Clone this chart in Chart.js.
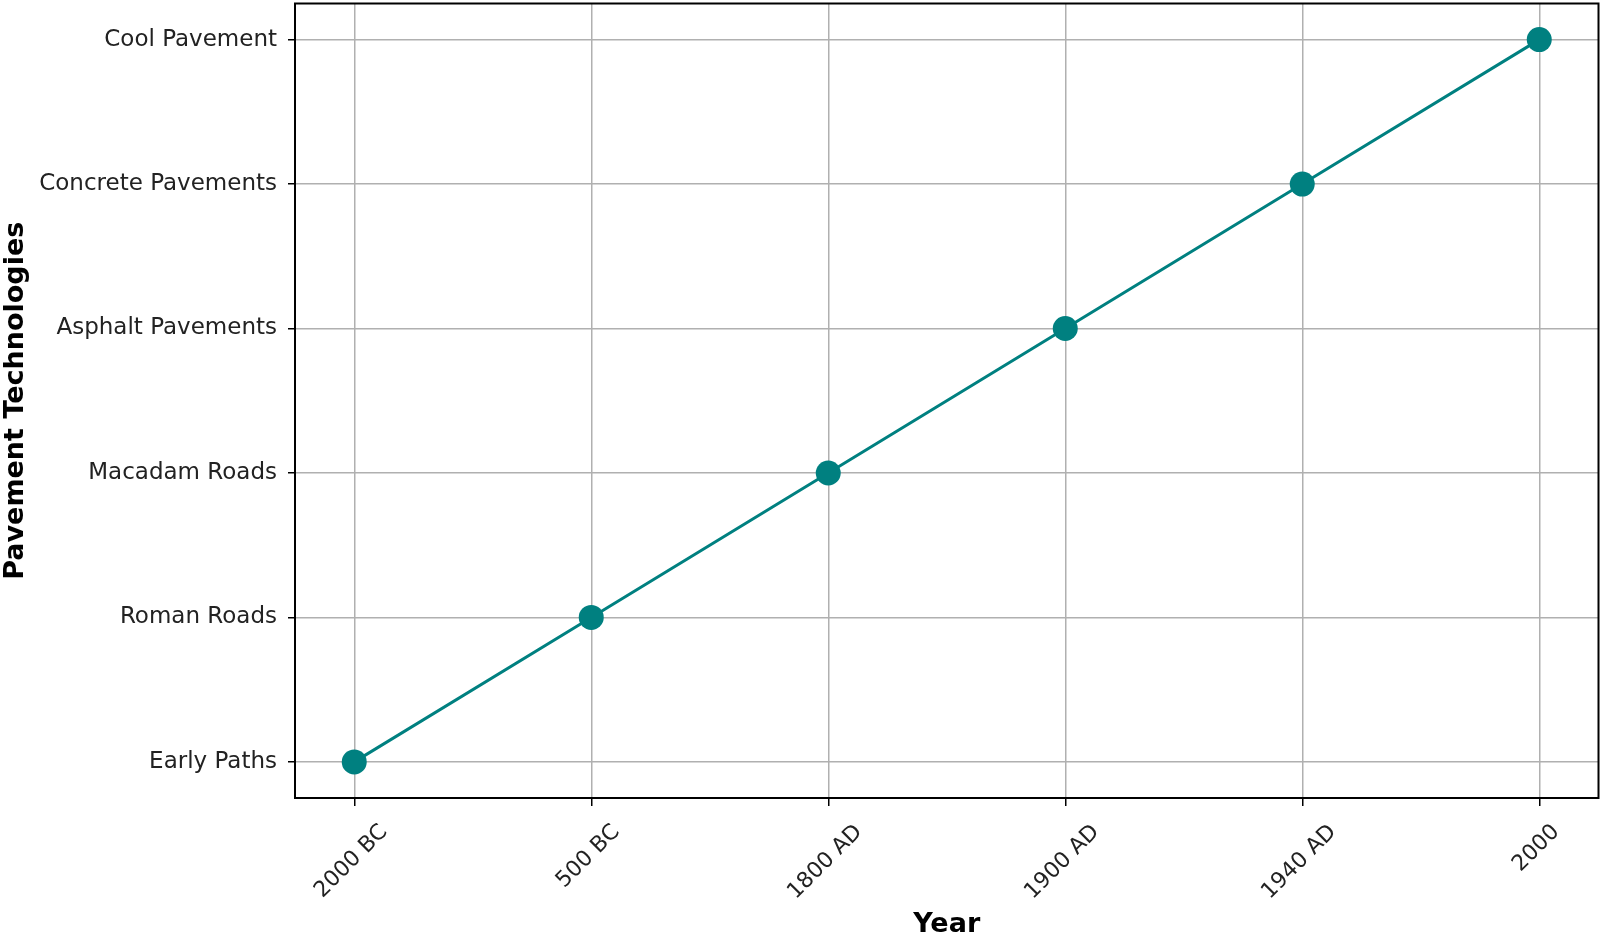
<!DOCTYPE html>
<html lang="en">
  <head>
    <meta charset="UTF-8" />
    <title>Pavement Technologies</title>
    <script src="https://cdn.jsdelivr.net/npm/chart.js"></script>
    <style>
      html, body { margin: 0; padding: 0; background: #fff; overflow: hidden; }
      /* a bit larger than the window so the plot frame sits where matplotlib put it */
      #wrap { position: relative; top: -9px; width: 1611px; height: 947px; }
    </style>
  </head>
  <body>
    <div id="wrap"><canvas id="timelineChart"></canvas></div>

    <script>
      const years = ['2000 BC', '500 BC', '1800 AD', '1900 AD', '1940 AD', '2000'];
      const technologies = ['Early Paths', 'Roman Roads', 'Macadam Roads', 'Asphalt Pavements', 'Concrete Pavements', 'Cool Pavement'];
      // each year maps to the technology index on the y axis
      const techIndex = [0, 1, 2, 3, 4, 5];

      const points = years.map((y, i) => ({ x: i, y: techIndex[i] }));

      // frame around the plot like matplotlib's spines
      const frame = {
        id: 'frame',
        afterDraw(chart) {
          const a = chart.chartArea;
          const ctx = chart.ctx;
          ctx.save();
          ctx.strokeStyle = '#000';
          ctx.lineWidth = 2;
          ctx.strokeRect(a.left, a.top, a.right - a.left, a.bottom - a.top);
          ctx.restore();
        }
      };

      // x labels rotated 45deg but centred under the tick (matplotlib style)
      const xLabels = {
        id: 'xLabels',
        afterDraw(chart) {
          const scale = chart.scales.x;
          const ctx = chart.ctx;
          ctx.save();
          ctx.font = '22px "DejaVu Sans"';
          ctx.fillStyle = '#222';
          ctx.textAlign = 'center';
          ctx.textBaseline = 'middle';
          years.forEach((label, i) => {
            const px = scale.getPixelForValue(i);
            const w = ctx.measureText(label).width;
            const h = (w + 16) * Math.SQRT1_2;
            ctx.save();
            ctx.translate(px - 3, chart.chartArea.bottom + 25 + h / 2);
            ctx.rotate(-Math.PI / 4);
            ctx.fillText(label, 0, 0);
            ctx.restore();
          });
          ctx.restore();
        }
      };

      const ctx = document.getElementById('timelineChart').getContext('2d');
      new Chart(ctx, {
        type: 'line',
        data: {
          datasets: [{
            data: points,
            borderColor: '#008080',
            backgroundColor: '#008080',
            borderWidth: 3,
            pointRadius: 12.5,
            pointHoverRadius: 12.5,
            pointBorderWidth: 0,
            tension: 0
          }]
        },
        plugins: [frame, xLabels],
        options: {
          responsive: true,
          maintainAspectRatio: false,
          animation: false,
          layout: { padding: 0 },
          plugins: {
            legend: { display: false },
            tooltip: { enabled: false }
          },
          scales: {
            x: {
              type: 'linear',
              min: -0.25,
              max: 5.25,
              afterBuildTicks: s => { s.ticks = years.map((_, i) => ({ value: i })); },
              afterFit: s => { s.height = 140; s.paddingLeft = 0; s.paddingRight = 0; },
              grid: { color: '#b0b0b0', lineWidth: 1.5, tickColor: '#000', tickLength: 8, tickWidth: 1.5 },
              border: { display: false },
              ticks: { display: false },
              title: {
                display: true,
                text: 'Year',
                color: '#000',
                font: { family: 'DejaVu Sans', size: 27, weight: 'bold' },
                padding: { top: 0, bottom: -3 }
              }
            },
            y: {
              type: 'linear',
              min: -0.25,
              max: 5.25,
              afterBuildTicks: s => { s.ticks = technologies.map((_, i) => ({ value: i })); },
              afterFit: s => { s.width = 295; s.paddingTop = 0; s.paddingBottom = 0; },
              grid: { color: '#b0b0b0', lineWidth: 1.5, tickColor: '#000', tickLength: 7, tickWidth: 1.5 },
              border: { display: false },
              ticks: {
                color: '#222',
                font: { family: 'DejaVu Sans', size: 23 },
                padding: 11,
                callback: v => technologies[v]
              },
              title: {
                display: true,
                text: 'Pavement Technologies',
                color: '#000',
                font: { family: 'DejaVu Sans', size: 27, weight: 'bold' },
                padding: { top: 0, bottom: 0 }
              }
            }
          }
        }
      });
    </script>
  </body>
</html>
